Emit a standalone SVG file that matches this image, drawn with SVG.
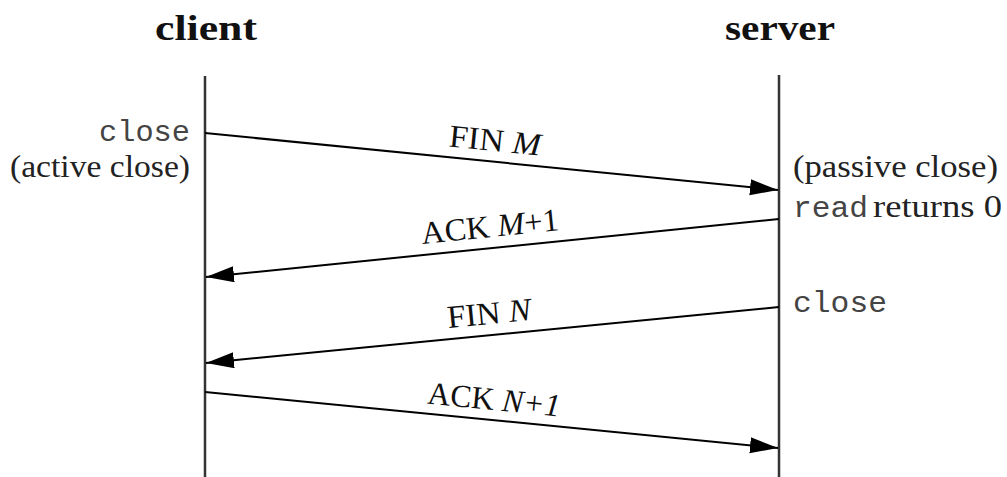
<svg xmlns="http://www.w3.org/2000/svg" width="1007" height="477" viewBox="0 0 1007 477">
<style>
.title{font-family:"Liberation Serif","DejaVu Serif",serif;font-weight:bold;font-size:36px;fill:#111}
.serif{font-family:"Liberation Serif","DejaVu Serif",serif;font-size:31px;fill:#222}
.mono{font-family:"Liberation Mono","DejaVu Sans Mono",monospace;font-size:30px;fill:#444}
.lbl{font-family:"Liberation Serif","DejaVu Serif",serif;font-size:32px;fill:#111}
.life{stroke:#333;stroke-width:2.5;fill:none}
.msg{stroke:#000;stroke-width:2;fill:none;marker-end:url(#ah)}
</style>
<defs>
<marker id="ah" markerUnits="userSpaceOnUse" markerWidth="30" markerHeight="18" refX="28" refY="8" orient="auto">
<path d="M0,0 L28,8 L0,16 z" fill="#000"/>
</marker>
</defs>
<g id="client">
<text class="title" x="206" y="40" text-anchor="middle" textLength="102" lengthAdjust="spacingAndGlyphs">client</text>
<line class="life" x1="205" y1="76" x2="205" y2="477"/>
<text class="mono" x="190" y="141" text-anchor="end" textLength="91" lengthAdjust="spacingAndGlyphs">close</text>
<text class="serif" x="190" y="177" text-anchor="end" textLength="180" lengthAdjust="spacingAndGlyphs">(active close)</text>
</g>
<g id="server">
<text class="title" x="780" y="40" text-anchor="middle" textLength="110" lengthAdjust="spacingAndGlyphs">server</text>
<line class="life" x1="779" y1="75" x2="779" y2="477"/>
<text class="serif" x="793" y="177" textLength="205" lengthAdjust="spacingAndGlyphs">(passive close)</text>
<text class="mono" x="793" y="217" textLength="75" lengthAdjust="spacingAndGlyphs">read</text>
<text class="serif" x="873" y="217" textLength="129" lengthAdjust="spacingAndGlyphs">returns 0</text>
<text class="mono" x="793" y="312" textLength="94" lengthAdjust="spacingAndGlyphs">close</text>
</g>
<g id="connectors">
<line class="msg" x1="205" y1="133" x2="778" y2="190"/>
<line class="msg" x1="779" y1="219" x2="206" y2="277"/>
<line class="msg" x1="779" y1="307" x2="206" y2="363"/>
<line class="msg" x1="205" y1="392" x2="778" y2="448"/>
<text class="lbl" text-anchor="middle" transform="translate(494,151) rotate(5.68)" textLength="92" lengthAdjust="spacingAndGlyphs">FIN <tspan font-style="italic">M</tspan></text>
<text class="lbl" text-anchor="middle" transform="translate(491,237) rotate(-5.77)" textLength="138" lengthAdjust="spacingAndGlyphs">ACK <tspan font-style="italic">M</tspan>+1</text>
<text class="lbl" text-anchor="middle" transform="translate(490,324) rotate(-5.57)" textLength="84" lengthAdjust="spacingAndGlyphs">FIN <tspan font-style="italic">N</tspan></text>
<text class="lbl" text-anchor="middle" transform="translate(493,410) rotate(5.58)" textLength="133" lengthAdjust="spacingAndGlyphs">ACK <tspan font-style="italic">N+1</tspan></text>
</g>
</svg>
